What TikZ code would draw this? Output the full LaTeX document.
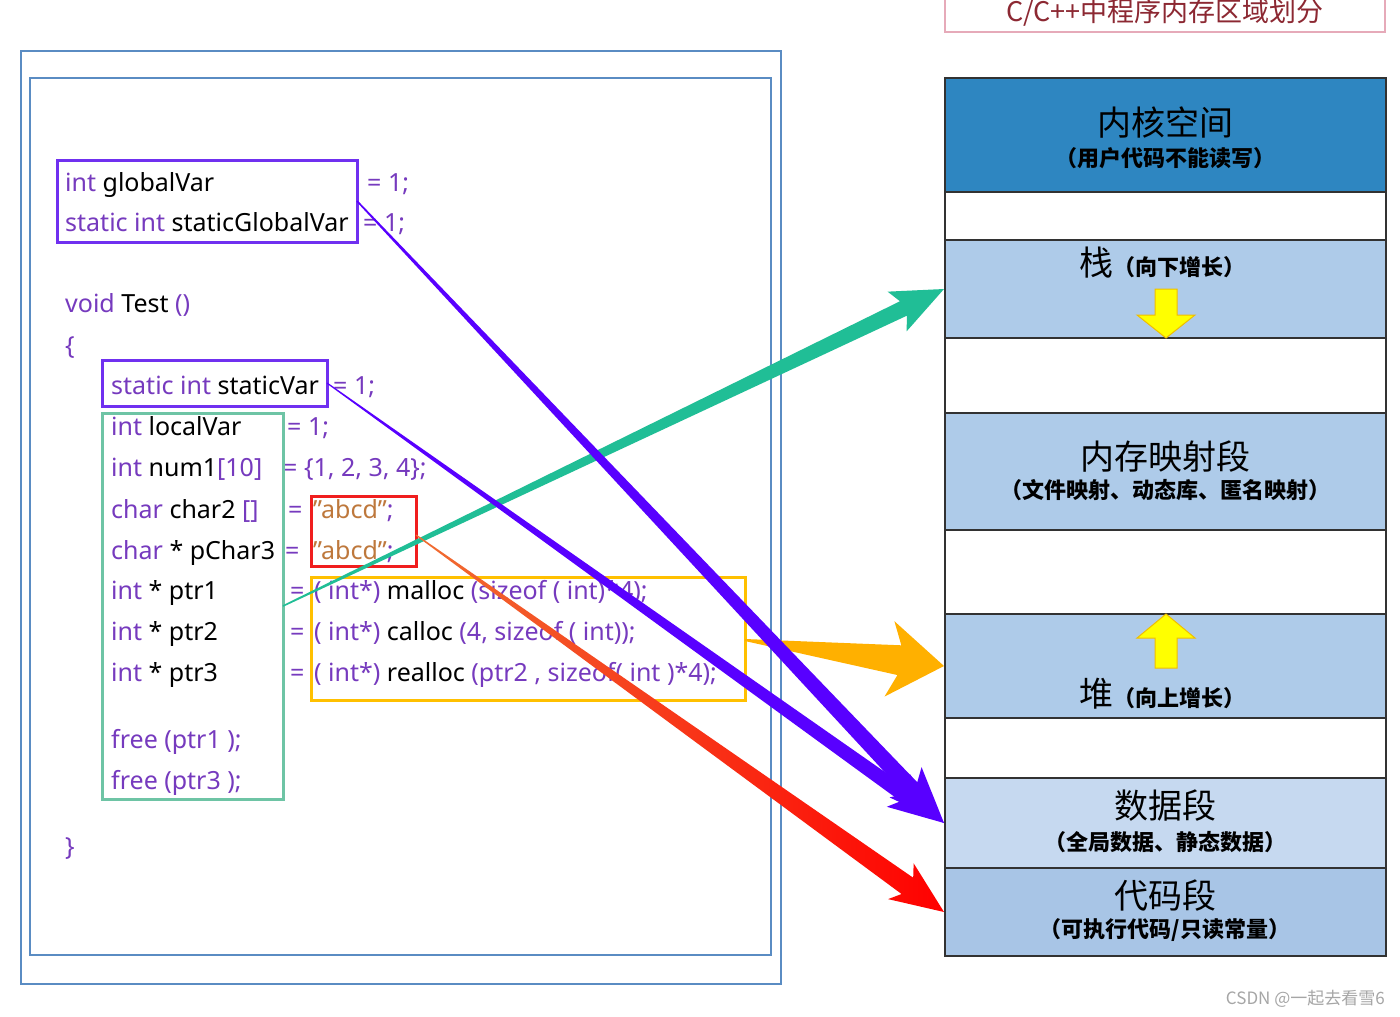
\documentclass[tikz,border=0pt]{standalone}
\usepackage{fontspec}
\setmainfont{Noto Sans}
\newfontfamily\cjk{Noto Sans CJK SC}
\usetikzlibrary{calc}
\definecolor{kw}{RGB}{118,58,190}
\definecolor{strc}{RGB}{190,120,60}
\definecolor{boxpur}{RGB}{112,48,240}
\definecolor{arrpur}{RGB}{88,0,255}
\definecolor{boxgrn}{RGB}{110,196,165}
\definecolor{arrteal}{RGB}{32,190,150}
\definecolor{boxorg}{RGB}{255,192,0}
\definecolor{arrorg}{RGB}{255,176,0}
\definecolor{boxred}{RGB}{240,30,30}
\definecolor{redstart}{RGB}{240,110,50}
\definecolor{kernfill}{RGB}{46,134,193}
\definecolor{segfill}{RGB}{174,203,233}
\definecolor{datafill}{RGB}{198,217,240}
\definecolor{codefill}{RGB}{168,197,230}
\definecolor{frameblue}{RGB}{90,140,195}
\definecolor{memline}{RGB}{50,50,50}
\definecolor{titlered}{RGB}{140,40,50}
\definecolor{titlebox}{RGB}{230,170,185}
\definecolor{ylw}{RGB}{255,255,0}
\definecolor{ylwline}{RGB}{240,190,0}
\newcommand{\taper}[8]{%
  \coordinate (tpB) at ($(#3)!#7pt!(#2)$);
  \coordinate (tpC) at ($(#3)!#8pt!(#2)$);
  \path[#1] ($(#2)!#4pt!90:(#3)$) -- ($(tpB)!#5pt!90:(#3)$) -- ($(tpC)!#6pt!90:(#3)$) -- (#3)
    -- ($(tpC)!#6pt!-90:(#3)$) -- ($(tpB)!#5pt!-90:(#3)$) -- ($(#2)!#4pt!-90:(#3)$) -- cycle;
}
\newcommand{\kw}[1]{\textcolor{kw}{#1}}
\newcommand{\abcdstr}{\textcolor{strc}{\char34 abcd\char34}\kw{;}}
\tikzset{
  code/.style={anchor=mid west, inner sep=0pt, yshift=-6pt, font=\fontsize{25}{25}\selectfont, text=black},
  memblk/.style={draw=memline, line width=2pt, minimum width=441pt, inner sep=0pt},
  bigcn/.style={font=\cjk\fontsize{34}{34}\selectfont, inner sep=0pt},
  subcn/.style={font=\cjk\bfseries\fontsize{22}{22}\selectfont, inner sep=0pt},
}
\begin{document}
\begin{tikzpicture}[x=1pt,y=-1pt]
\useasboundingbox (0,0) rectangle (1400,1017);
\clip (0,0) rectangle (1400,1017);
\fill[white] (0,0) rectangle (1400,1017);

% frames
\draw[frameblue, line width=1.5pt] (21,51) rectangle (781,984);
\draw[frameblue, line width=1.5pt] (30,78) rectangle (771,955);

% title box
\draw[titlebox, line width=2pt] (945,-10) rectangle (1385,32);
\node[font=\cjk\fontsize{27}{27}\selectfont, text=titlered, inner sep=0pt] (title) at (1165,13) {C/C++中程序内存区域划分};

% code text
\node[code] (l1a) at (65,183) {\kw{int} globalVar};
\node[code] (l1b) at (367,183) {\kw{= 1;}};
\node[code] (l2a) at (65,223) {\kw{static int} staticGlobalVar};
\node[code] (l2b) at (363,223) {\kw{= 1;}};
\node[code] (l3) at (65,304) {\kw{void} Test \kw{()}};
\node[code] (l4) at (65,346) {\kw{\{}};
\node[code] (l5a) at (111,386) {\kw{static int} staticVar};
\node[code] (l5b) at (333,386) {\kw{= 1;}};
\node[code] (l6a) at (111,427) {\kw{int} localVar};
\node[code] (l6b) at (287,427) {\kw{= 1;}};
\node[code] (l7a) at (111,468) {\kw{int} num1\kw{[10]}};
\node[code] (l7b) at (283,468) {\kw{= \{1, 2, 3, 4\};}};
\node[code] (l8a) at (111,510) {\kw{char} char2 \kw{[]}};
\node[code] (l8b) at (288,510) {\kw{=}};
\node[code] (l8c) at (313,510) {\abcdstr};
\node[code] (l9a) at (111,551) {\kw{char} * pChar3};
\node[code] (l9b) at (285,551) {\kw{=}};
\node[code] (l9c) at (313,551) {\abcdstr};
\node[code] (l10a) at (111,591) {\kw{int} * ptr1};
\node[code] (l10b) at (290,591) {\kw{=}};
\node[code] (l10c) at (314,591) {\kw{( int*)} malloc \kw{(sizeof ( int)*4);}};
\node[code] (l11a) at (111,632) {\kw{int} * ptr2};
\node[code] (l11b) at (290,632) {\kw{=}};
\node[code] (l11c) at (314,632) {\kw{( int*)} calloc \kw{(4, sizeof ( int));}};
\node[code] (l12a) at (111,673) {\kw{int} * ptr3};
\node[code] (l12b) at (290,673) {\kw{=}};
\node[code] (l12c) at (314,673) {\kw{( int*)} realloc \kw{(ptr2 , sizeof( int )*4);}};
\node[code] (l13) at (111,740) {\kw{free (ptr1 );}};
\node[code] (l14) at (111,781) {\kw{free (ptr3 );}};
\node[code] (l15) at (65,847) {\kw{\}}};

% highlight boxes
\draw[boxpur, line width=3pt] (57,160) rectangle (357,242);
\coordinate (gbox) at (357,201);
\draw[boxpur, line width=3pt] (102,360) rectangle (327,406);
\coordinate (sbox) at (327,383);
\draw[boxgrn, line width=3pt] (102,413) rectangle (283,799);
\coordinate (lbox) at (283,606);
\draw[boxred, line width=3pt] (311,496) rectangle (416,566);
\coordinate (rbox) at (416,535);
\draw[boxorg, line width=3pt] (311,577) rectangle (745,700);
\coordinate (obox) at (745,640);

% memory column
\node[memblk, fill=kernfill, minimum height=114pt] (kern) at (1165.5,135) {};
\node[memblk, fill=white, minimum height=48pt] (gap1) at (1165.5,216) {};
\node[memblk, fill=segfill, minimum height=98pt] (stack) at (1165.5,289) {};
\node[memblk, fill=white, minimum height=75pt] (gap2) at (1165.5,375.5) {};
\node[memblk, fill=segfill, minimum height=117pt] (mmap) at (1165.5,471.5) {};
\node[memblk, fill=white, minimum height=84pt] (gap3) at (1165.5,572) {};
\node[memblk, fill=segfill, minimum height=104pt] (heap) at (1165.5,666) {};
\node[memblk, fill=white, minimum height=60pt] (gap4) at (1165.5,748) {};
\node[memblk, fill=datafill, minimum height=90pt] (data) at (1165.5,823) {};
\node[memblk, fill=codefill, minimum height=88pt] (code) at (1165.5,912) {};

\node[bigcn] (kernT) at (1165,123) {内核空间};
\node[subcn] (kernS) at (1165,158) {（用户代码不能读写）};
\node[inner sep=0pt, anchor=base] (stackT) at (1162,275) {{\cjk\fontsize{34}{34}\selectfont 栈}{\cjk\bfseries\fontsize{22}{22}\selectfont（向下增长）}};
\node[bigcn] (mmapT) at (1165,457) {内存映射段};
\node[subcn] (mmapS) at (1165,490) {（文件映射、动态库、匿名映射）};
\node[inner sep=0pt, anchor=base] (heapT) at (1162,706) {{\cjk\fontsize{34}{34}\selectfont 堆}{\cjk\bfseries\fontsize{22}{22}\selectfont（向上增长）}};
\node[bigcn] (dataT) at (1165,806) {数据段};
\node[subcn] (dataS) at (1165,842) {（全局数据、静态数据）};
\node[bigcn] (codeT) at (1165,896) {代码段};
\node[subcn] (codeS) at (1165,930) {（可执行代码/只读常量）};

% yellow growth arrows
\filldraw[fill=ylw, draw=ylwline, line width=1pt] (1155,289) -- (1177,289) -- (1177,315) -- (1195,315) -- (1166,338) -- (1137,315) -- (1155,315) -- cycle;
\filldraw[fill=ylw, draw=ylwline, line width=1pt] (1166,614) -- (1195,638) -- (1177,638) -- (1177,668) -- (1155,668) -- (1155,638) -- (1137,638) -- cycle;

% tapered arrows
\taper{fill=arrteal}{lbox}{stack.west}{0.8}{8}{22}{45}{52}
\taper{fill=arrorg}{obox}{heap.west}{1}{15}{38}{45}{55}
\taper{fill=arrpur}{gbox}{data.west}{0.8}{8.5}{22}{48}{56}
\taper{fill=arrpur}{sbox}{data.west}{0.6}{7.5}{20}{48}{56}
\taper{left color=redstart, middle color=red, right color=red}{rbox}{code.west}{0.6}{10}{22}{45}{53}

% credit
\node[font=\cjk\fontsize{17}{17}\selectfont, text=gray!70, anchor=east, inner sep=0pt] (credit) at (1385,999) {CSDN @一起去看雪6};
\end{tikzpicture}
\end{document}
